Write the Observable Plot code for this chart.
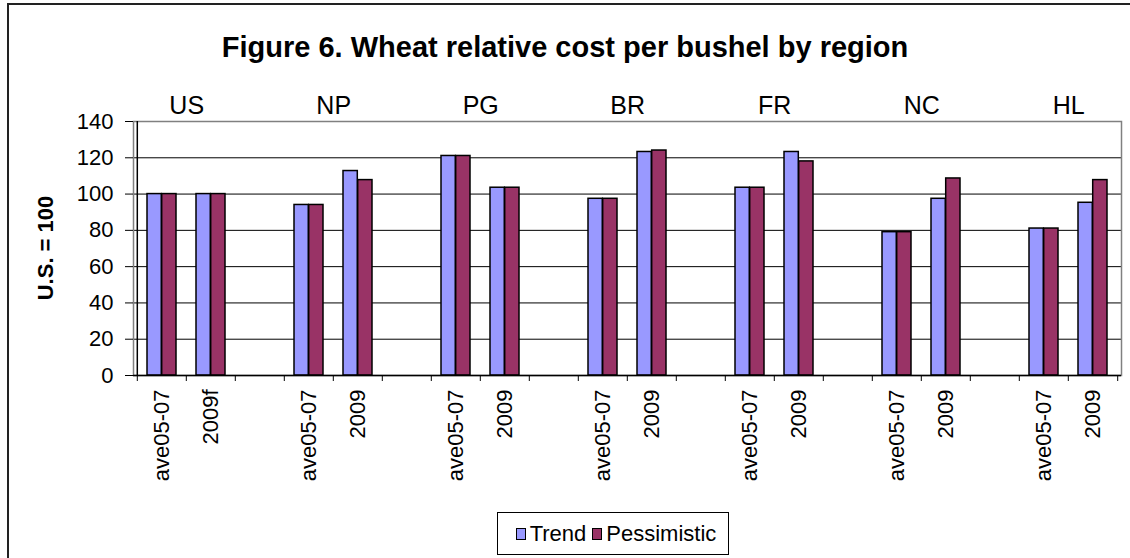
<!DOCTYPE html>
<html><head><meta charset="utf-8">
<script src="https://cdn.jsdelivr.net/npm/d3@7"></script>
<script src="https://cdn.jsdelivr.net/npm/@observablehq/plot@0.6"></script>
<style>
html,body{margin:0;padding:0;background:#fff;overflow:hidden;}
#wrap{position:relative;width:1130px;height:558px;font-family:"Liberation Sans",Arial,sans-serif;color:#000;}
#border{position:absolute;left:7px;top:3px;width:1300px;height:800px;border-left:2px solid #222;border-top:2px solid #222;}
#title{position:absolute;left:0;top:33px;width:1130px;text-align:center;font-weight:bold;font-size:29px;line-height:29px;}
#ytitle{position:absolute;left:46px;top:248px;transform:translate(-50%,-50%) rotate(-90deg);font-weight:bold;font-size:22px;line-height:22px;white-space:nowrap;}
#legend{position:absolute;left:497px;top:512px;width:230px;height:41px;border:1px solid #000;display:flex;align-items:center;justify-content:center;font-size:22px;background:#fff;}
.sw{display:inline-block;width:8px;height:10px;border:1.5px solid #000;margin:0 4px 0 6px;}
#chart svg{position:absolute;left:0;top:0;}
</style></head>
<body>
<div id="wrap">
  <div id="border"></div>
  <div id="chart"></div>
  <div id="title"></div>
  <div id="ytitle"></div>
  <div id="legend"></div>
</div>
<script>
const titleText = "Figure 6. Wheat relative cost per bushel by region";
const yTitle = "U.S. = 100";
const regions = ["US", "NP", "PG", "BR", "FR", "NC", "HL"];
const periods = [
  ["ave05-07", "2009f"],
  ["ave05-07", "2009"],
  ["ave05-07", "2009"],
  ["ave05-07", "2009"],
  ["ave05-07", "2009"],
  ["ave05-07", "2009"],
  ["ave05-07", "2009"]
];
const seriesNames = ["Trend", "Pessimistic"];
const seriesColors = ["#9999FF", "#993366"];
const trend =       [100, 100, 94, 112.7, 121, 103.5, 97.4, 123.2, 103.5, 123.2, 79, 97.4, 81, 95.2];
const pessimistic = [100, 100, 94, 107.7, 121, 103.5, 97.4, 124.0, 103.5, 118.0, 79, 108.6, 81, 107.7];
const yTicks = [0, 20, 40, 60, 80, 100, 120, 140];

// build slots (two periods per region, a blank slot between regions)
const rows = [];
const slots = [];
const labelOf = new Map();
let k = 0;
regions.forEach((r, i) => {
  periods[i].forEach((p, j) => {
    const key = `${r}|${j}`;
    slots.push(key);
    labelOf.set(key, p);
    rows.push({slot: key, region: r, period: p, trend: trend[k], pess: pessimistic[k]});
    k++;
  });
  if (i < regions.length - 1) slots.push(`${r}|gap`);
});

const W = 1130, H = 480, mL = 133, mR = 9, mT = 121, mB = 105;
const step = (W - mL - mR) / slots.length;
const barW = 14.7;

const plot = Plot.plot({
  width: W, height: H,
  marginLeft: mL, marginRight: mR, marginTop: mT, marginBottom: mB,
  style: {fontFamily: "Liberation Sans, Arial, sans-serif", fontSize: "22px", color: "#000", background: "transparent", overflow: "visible"},
  x: {type: "band", domain: slots, padding: 0},
  y: {domain: [0, 140]},
  marks: [
    Plot.ruleY(yTicks.filter(t => t > 0 && t < 140), {stroke: "#000", strokeWidth: 1}),
    Plot.frame({stroke: "#808080", strokeWidth: 1.5}),
    Plot.barY(rows, {x: "slot", y: "trend", fill: seriesColors[0], stroke: "#000", strokeWidth: 1.5,
      insetLeft: step / 2 - barW, insetRight: step / 2}),
    Plot.barY(rows, {x: "slot", y: "pess", fill: seriesColors[1], stroke: "#000", strokeWidth: 1.5,
      insetLeft: step / 2, insetRight: step / 2 - barW}),
    Plot.ruleY([0], {stroke: "#000", strokeWidth: 1.5}),
    Plot.ruleX([slots[0]], {y1: 0, y2: 140, dx: -step / 2, stroke: "#000", strokeWidth: 1.5}),
    Plot.ruleX(slots, {y1: 0, y2: 0, insetBottom: -6, dx: -step / 2, stroke: "#000"}),
    Plot.ruleX([slots[slots.length - 1]], {y1: 0, y2: 0, insetBottom: -6, dx: step / 2, stroke: "#000"}),
    Plot.axisY({ticks: yTicks, tickSize: 8, tickPadding: 12, label: null, fontSize: 22, stroke: "#000"}),
    Plot.axisX({tickSize: 0, tickPadding: 14, tickRotate: -90, tickFormat: d => labelOf.get(d) || "", label: null, fontSize: 22}),
    Plot.text(regions, {x: r => `${r}|0`, text: d => d, dx: step / 2, frameAnchor: "top", lineAnchor: "bottom", dy: -8, fontSize: 25})
  ]
});
document.getElementById("chart").append(plot);

document.getElementById("title").textContent = titleText;
document.getElementById("ytitle").textContent = yTitle;
const leg = document.getElementById("legend");
seriesNames.forEach((n, i) => {
  const sw = document.createElement("span");
  sw.className = "sw";
  sw.style.background = seriesColors[i];
  leg.append(sw);
  const t = document.createElement("span");
  t.textContent = n;
  leg.append(t);
});
</script>
</body></html>
